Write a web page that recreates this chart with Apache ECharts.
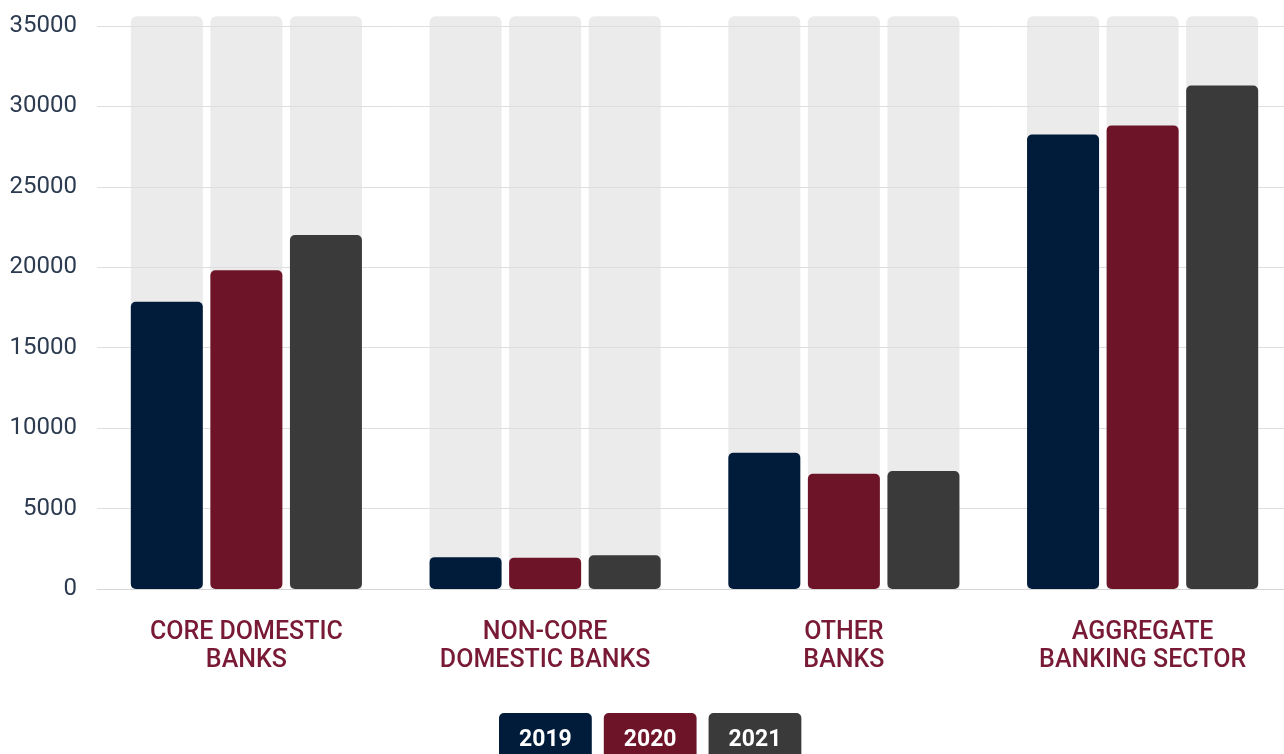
<!DOCTYPE html>
<html>
<head>
<meta charset="utf-8">
<title>Banking sector 2019–2021</title>
<script src="https://cdn.jsdelivr.net/npm/echarts@6/dist/echarts.min.js"></script>
<style>
  html, body { margin: 0; padding: 0; background: #ffffff; overflow: hidden; }
  /* the plot area runs a few pixels past the right edge of the window */
  #chart { width: 1300px; height: 754px; }
</style>
</head>
<body>
<div id="chart"></div>
<script>
// Category names (two-line labels under each group)
const categories = [
  'CORE DOMESTIC\nBANKS',
  'NON-CORE\nDOMESTIC BANKS',
  'OTHER\nBANKS',
  'AGGREGATE\nBANKING SECTOR'
];
const years = ['2019', '2020', '2021'];

// Values per year, one entry per category
const values2019 = [17860, 1980, 8470, 28260];
const values2020 = [19820, 1950, 7160, 28820];
const values2021 = [22000, 2100, 7340, 31300];

// Height of the grey track drawn behind every bar
const trackValue = 35600;
const trackValues = [trackValue, trackValue, trackValue, trackValue];

// Value axis ticks
const yMin = 0;
const yMax = 35000;
const yStep = 5000;

const colors = ['#011c3a', '#6d1429', '#3a3a3a'];
const seriesValues = [values2019, values2020, values2021];

const BAR_W = 72;
const BAR_GAP = '10.5%';

const chart = echarts.init(document.getElementById('chart'), null, { renderer: 'canvas' });

const trackSeries = years.map(y => ({
  name: 'track-' + y,
  type: 'bar',
  xAxisIndex: 1,
  data: trackValues,
  barWidth: BAR_W,
  barGap: BAR_GAP,
  clip: false,
  silent: true,
  z: 0,
  itemStyle: { color: '#ebebeb', borderRadius: [6, 6, 0, 0] },
  legendHoverLink: false
}));

const dataSeries = years.map((y, i) => ({
  name: y,
  type: 'bar',
  xAxisIndex: 0,
  data: seriesValues[i],
  barWidth: BAR_W,
  barGap: BAR_GAP,
  z: 2,
  itemStyle: { color: colors[i], borderRadius: 5 }
}));

const legendItem = (name, color) => ({
  name: name,
  icon: 'none',
  textStyle: {
    color: '#ffffff',
    backgroundColor: color,
    borderRadius: 5,
    padding: [12, 20, 14, 20],
    fontFamily: 'Roboto',
    fontWeight: 'bold',
    fontSize: 23,
    lineHeight: 28
  }
});

chart.setOption({
  animation: false,
  backgroundColor: '#ffffff',
  color: colors,
  grid: { left: 97, width: 1195, top: 26, bottom: 165, containLabel: false },
  legend: {
    data: years.map((y, i) => legendItem(y, colors[i])),
    left: 494,
    top: 713,
    padding: 0,
    itemWidth: 0,
    itemHeight: 0,
    itemGap: 7,
    selectedMode: false
  },
  xAxis: [
    {
      type: 'category',
      data: categories,
      z: 3,
      axisTick: { show: false },
      axisLine: { lineStyle: { color: '#d6d6d6', width: 1 } },
      axisLabel: {
        interval: 0,
        margin: 30,
        color: '#781a35',
        fontFamily: 'Roboto',
        fontWeight: 500,
        fontSize: 25,
        lineHeight: 28,
        align: 'center'
      }
    },
    {
      type: 'category',
      data: categories,
      show: false
    }
  ],
  yAxis: {
    type: 'value',
    min: yMin,
    max: yMax,
    interval: yStep,
    z: 1,
    axisLine: { show: false },
    axisTick: { show: false },
    splitLine: { lineStyle: { color: '#dedede', width: 1 } },
    axisLabel: {
      margin: 20,
      color: '#2c3b4f',
      fontFamily: 'Roboto',
      fontSize: 24,
      formatter: v => String(v)
    }
  },
  series: trackSeries.concat(dataSeries)
});
</script>
</body>
</html>
